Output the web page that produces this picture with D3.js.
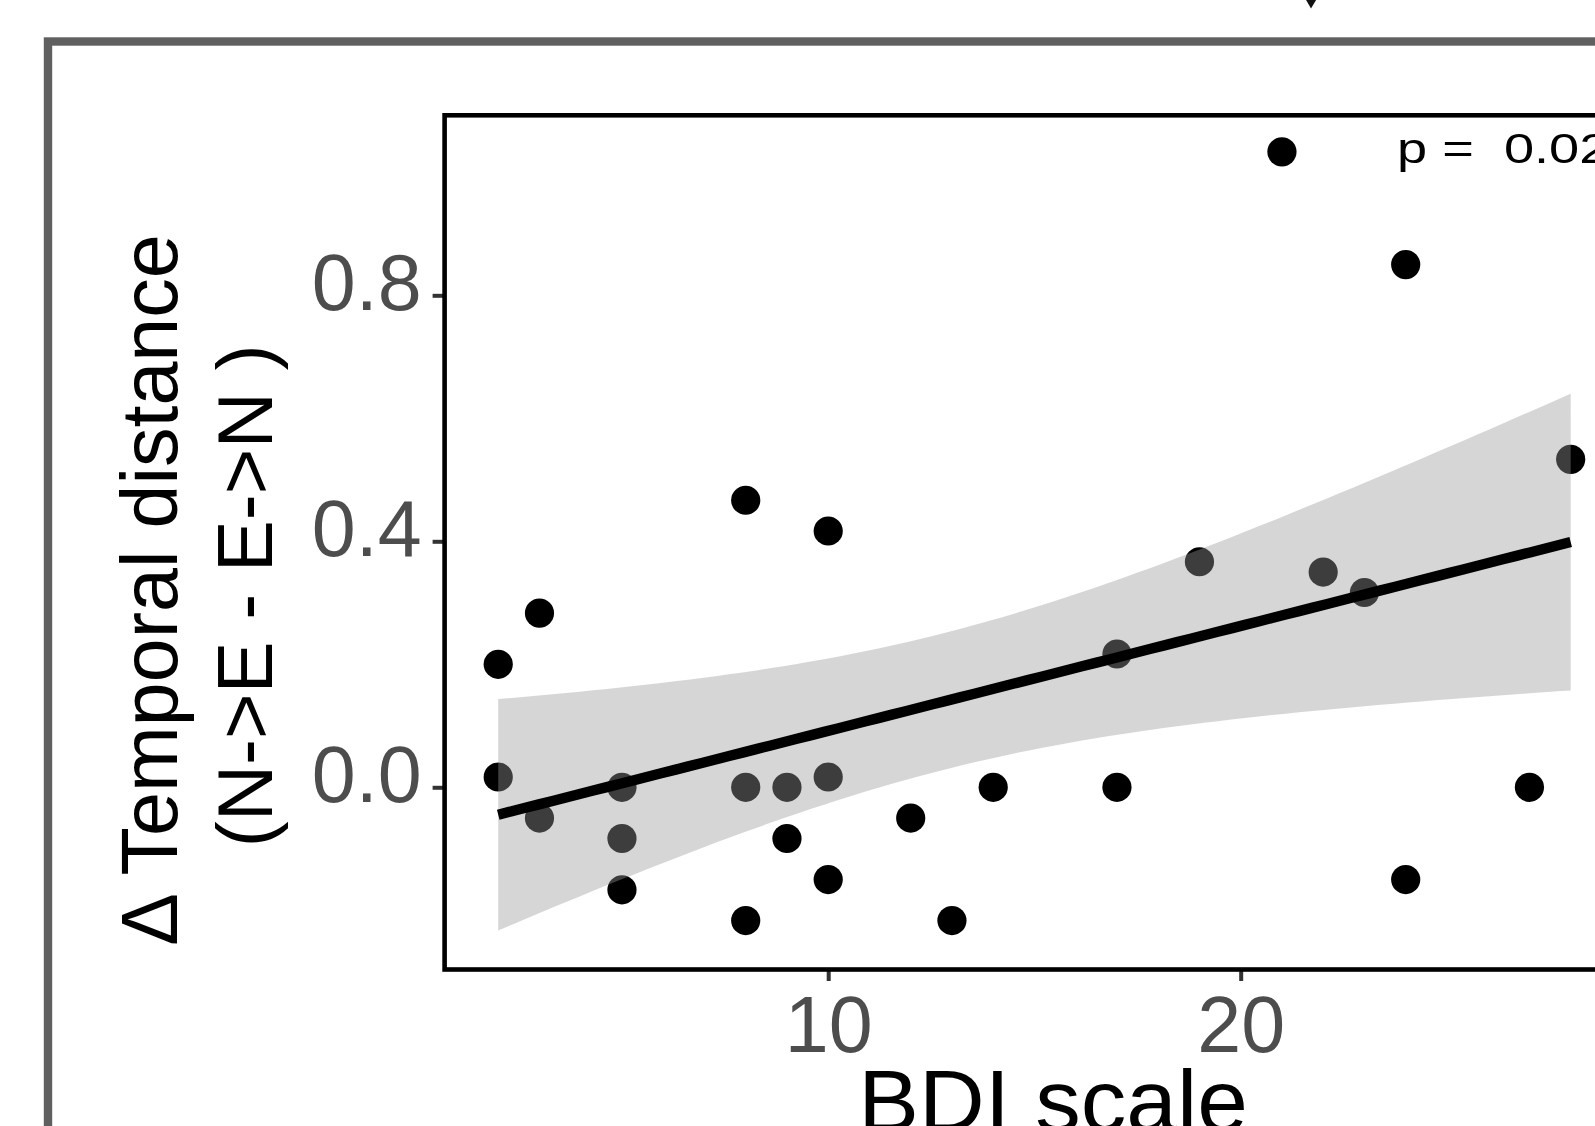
<!DOCTYPE html>
<html>
<head>
<meta charset="utf-8">
<script src="https://cdn.jsdelivr.net/npm/d3@7"></script>
<style>
  body { margin: 0; background: #fff; }
  svg { display: block; font-family: "Liberation Sans", Arial, Helvetica, sans-serif; }
</style>
</head>
<body>
<div class="vis-scatter"></div>
<script>
// BDI score per subject and change in temporal distance
const bdi = [2, 2, 3, 3, 5, 5, 5, 8, 8, 8, 9, 9, 10, 10, 10, 12, 13, 14, 17, 17, 19, 21, 22, 23, 24, 24, 27, 28];
const deltaDist = [0.2, 0.0167, 0.2833, -0.05, 0, -0.0833, -0.1667, 0.4667, 0, -0.2167, 0, -0.0833,
  0.4167, 0.0167, -0.15, -0.05, -0.2167, 0, 0, 0.2167, 0.3667, 1.0333, 0.35, 0.3167, 0.85, -0.15, 0, 0.5333];

const xTicks = [10, 20];
const yTicks = [0.0, 0.4, 0.8];
const xLimits = [0.7, 29.3];
const yLimits = [-0.2963, 1.0927];
const pLabel = "p =  0.02";
const xTitle = "BDI scale";
const yTitle = ["\u0394 Temporal distance", "(N->E - E->N )"];

const W = 1595, H = 1126;
const panel = { left: 444.6, right: 1624.3, top: 115.3, bottom: 969.5 };

const svg = d3.select(".vis-scatter")
  .append("svg")
  .attr("width", W)
  .attr("height", H);

const x = d3.scaleLinear().domain(xLimits).range([panel.left, panel.right]);
const y = d3.scaleLinear().domain(yLimits).range([panel.bottom, panel.top]);

// outer grey frame (continues past the right / bottom edge)
svg.append("rect")
  .attr("x", 48).attr("y", 41.5)
  .attr("width", 1700).attr("height", 1200)
  .attr("fill", "none")
  .attr("stroke", "#606060")
  .attr("stroke-width", 8.4);

// small arrow tip at top
svg.append("path")
  .attr("d", "M1305.5,-1 L1316.7,-1 L1311,8.5 Z")
  .attr("fill", "#111");

// linear fit + 95% CI (same as geom_smooth(method = "lm"))
const n = bdi.length;
const mx = d3.mean(bdi), my = d3.mean(deltaDist);
let sxx = 0, sxy = 0;
bdi.forEach((v, i) => {
  sxx += (v - mx) * (v - mx);
  sxy += (v - mx) * (deltaDist[i] - my);
});
const slope = sxy / sxx;
const icpt = my - slope * mx;
let sse = 0;
bdi.forEach((v, i) => {
  const r = deltaDist[i] - (icpt + slope * v);
  sse += r * r;
});
const sRes = Math.sqrt(sse / (n - 2));
const tCrit = 2.0555; // t(0.975, 26)

const [x0, x1] = d3.extent(bdi);
const grid = d3.range(80).map(i => x0 + (x1 - x0) * i / 79);
const fit = grid.map(g => {
  const yh = icpt + slope * g;
  const se = sRes * Math.sqrt(1 / n + (g - mx) * (g - mx) / sxx);
  return { x: g, y: yh, lo: yh - tCrit * se, hi: yh + tCrit * se };
});

const plot = svg.append("g");

// clip to panel
svg.append("clipPath").attr("id", "panelClip")
  .append("rect")
  .attr("x", panel.left).attr("y", panel.top)
  .attr("width", panel.right - panel.left)
  .attr("height", panel.bottom - panel.top);
plot.attr("clip-path", "url(#panelClip)");

plot.selectAll("circle")
  .data(bdi)
  .enter()
  .append("circle")
  .attr("cx", d => x(d))
  .attr("cy", (d, i) => y(deltaDist[i]))
  .attr("r", 14.6)
  .attr("fill", "#000");

plot.append("path")
  .datum(fit)
  .attr("d", d3.area().x(d => x(d.x)).y0(d => y(d.lo)).y1(d => y(d.hi)))
  .attr("fill", "#999999")
  .attr("fill-opacity", 0.4);

plot.append("path")
  .datum(fit)
  .attr("d", d3.line().x(d => x(d.x)).y(d => y(d.y)))
  .attr("fill", "none")
  .attr("stroke", "#000")
  .attr("stroke-width", 10.4);

// p value (glyphs in the original are a bit wider)
plot.append("text")
  .attr("transform", "translate(1397,163.3) scale(1.26,1)")
  .style("white-space", "pre")
  .attr("font-size", 43)
  .attr("fill", "#000")
  .text(pLabel);

// axes
const yAxis = svg.append("g")
  .attr("transform", "translate(" + panel.left + ",0)")
  .call(d3.axisLeft(y).tickValues(yTicks).tickFormat(d3.format(".1f")).tickSize(12).tickPadding(11));

const xAxis = svg.append("g")
  .attr("transform", "translate(0," + panel.bottom + ")")
  .call(d3.axisBottom(x).tickValues(xTicks).tickFormat(d3.format("d")).tickSize(11.5).tickPadding(14.5));

[yAxis, xAxis].forEach(a => {
  a.select(".domain").remove();
  a.selectAll(".tick line").attr("stroke", "#333").attr("stroke-width", 4);
  a.selectAll(".tick text")
    .attr("fill", "#4d4d4d")
    .attr("font-size", 79)
    .attr("font-family", "Liberation Sans, Arial, sans-serif");
});
yAxis.selectAll(".tick text").attr("dy", "0.182em");
xAxis.selectAll(".tick text").attr("dy", "0.71em");

// panel border
svg.append("rect")
  .attr("x", panel.left).attr("y", panel.top)
  .attr("width", panel.right - panel.left)
  .attr("height", panel.bottom - panel.top)
  .attr("fill", "none")
  .attr("stroke", "#000")
  .attr("stroke-width", 4.6);

// titles
svg.append("text")
  .attr("transform", "translate(1053,1131) scale(1.035,1)")
  .attr("text-anchor", "middle")
  .attr("font-size", 88)
  .attr("fill", "#000")
  .text(xTitle);

const yTitlePos = [{ x: 177, y: 590, fs: 79 }, { x: 272, y: 596, fs: 78 }];
yTitle.forEach((t, i) => {
  svg.append("text")
    .attr("transform", "translate(" + yTitlePos[i].x + "," + yTitlePos[i].y + ") rotate(-90)")
    .attr("text-anchor", "middle")
    .attr("font-size", yTitlePos[i].fs)
    .attr("fill", "#000")
    .text(t);
});
</script>
</body>
</html>
